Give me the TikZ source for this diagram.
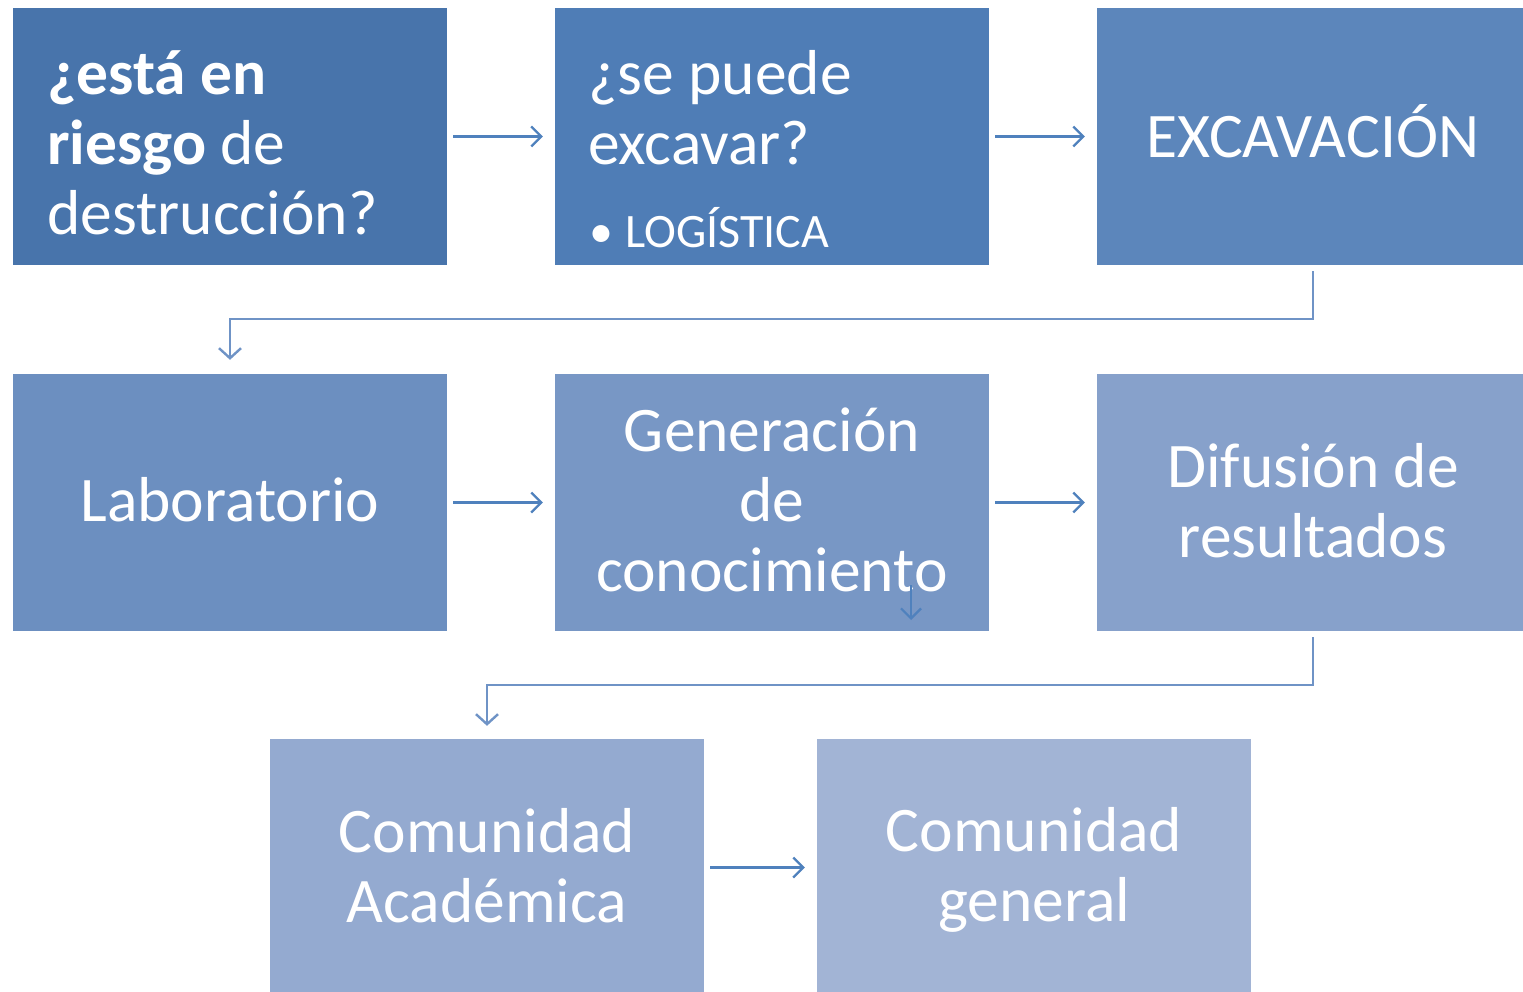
\documentclass[tikz,border=0pt]{standalone}
\usepackage{fontspec}
\setmainfont{Carlito}
\usetikzlibrary{arrows.meta}
\definecolor{cA}{HTML}{4874AB}
\definecolor{cB}{HTML}{4F7DB6}
\definecolor{cC}{HTML}{5C86BB}
\definecolor{cD}{HTML}{6C8FC0}
\definecolor{cE}{HTML}{7897C5}
\definecolor{cF}{HTML}{87A1CB}
\definecolor{cG}{HTML}{94AAD0}
\definecolor{cH}{HTML}{A2B4D5}
\definecolor{lnA}{HTML}{4F81BD}
\definecolor{lnB}{HTML}{6F93C6}
\tikzset{
  boxnode/.style={rectangle, minimum width=434pt, minimum height=257pt, inner sep=0pt, draw=none},
  big/.style={text=white, font=\fontsize{63.5}{70}\selectfont, inner sep=0pt},
  conn/.style={draw=lnA, line width=2.2pt, -{Straight Barb[length=10pt,width=20pt,line width=2.2pt]}},
  elbowconn/.style={draw=lnB, line width=2.4pt, -{Straight Barb[length=10pt,width=22pt,line width=2.4pt]}}
}
\begin{document}
\begin{tikzpicture}[x=1pt,y=-1pt]
\useasboundingbox (0,0) rectangle (1523,992);
% boxes
\node[boxnode, fill=cA] (b1) at (230,136.5) {};
\node[boxnode, fill=cB] (b2) at (772,136.5) {};
\node[boxnode, fill=cC] (b3) at (1314,136.5) {};
\node[boxnode, fill=cD] (b4) at (230,502.5) {};
\node[boxnode, fill=cE] (b5) at (772,502.5) {};
\node[boxnode, fill=cF] (b6) at (1314,502.5) {};
\node[boxnode, fill=cG] (b7) at (487,867.5) {};
\node[boxnode, fill=cH] (b8) at (1034,867.5) {};
% texts
\node[big, anchor=base west, align=left] (t1) at (47,235) {\textbf{¿está en}\\\textbf{riesgo} de\\destrucción?};
\node[big, anchor=base west, align=left] (t2) at (588,165) {¿se puede\\excavar?};
\node[text=white, font=\fontsize{48}{56}\selectfont, inner sep=0pt, anchor=base west] (t2b) at (589,248) {\makebox[36pt][l]{\textbullet}LOGÍSTICA};
\node[big] (t3) at (1313,131) {EXCAVACIÓN};
\node[big] (t4) at (230,500) {Laboratorio};
\node[big, align=center] (t5) at (772,500) {Generación\\de\\conocimiento};
\node[big, align=center] (t6) at (1313,501) {Difusión de\\resultados};
\node[big, align=center] (t7) at (487,866) {Comunidad\\Académica};
\node[big, align=center] (t8) at (1034,870) {Comunidad\\general};
% connectors
\draw[conn] ([xshift=6pt]b1.east) -- ([xshift=-12pt]b2.west);
\draw[conn] ([xshift=6pt]b2.east) -- ([xshift=-12pt]b3.west);
\draw[conn] ([xshift=6pt]b4.east) -- ([xshift=-12pt]b5.west);
\draw[conn] ([xshift=6pt]b5.east) -- ([xshift=-12pt]b6.west);
\draw[conn] ([xshift=6pt]b7.east) -- ([xshift=-12pt]b8.west);
\draw[elbowconn] ([xshift=-1pt,yshift=-6pt]b3.south) -- (1313,319) -- (230,319) -- ([yshift=14pt]b4.north);
\draw[elbowconn] ([xshift=-1pt,yshift=-6pt]b6.south) -- (1313,685) -- (487,685) -- ([yshift=13pt]b7.north);
\coordinate (s1) at (911,585);
\coordinate (s2) at (911,620);
\draw[conn] (s1) -- (s2);
\end{tikzpicture}
\end{document}
